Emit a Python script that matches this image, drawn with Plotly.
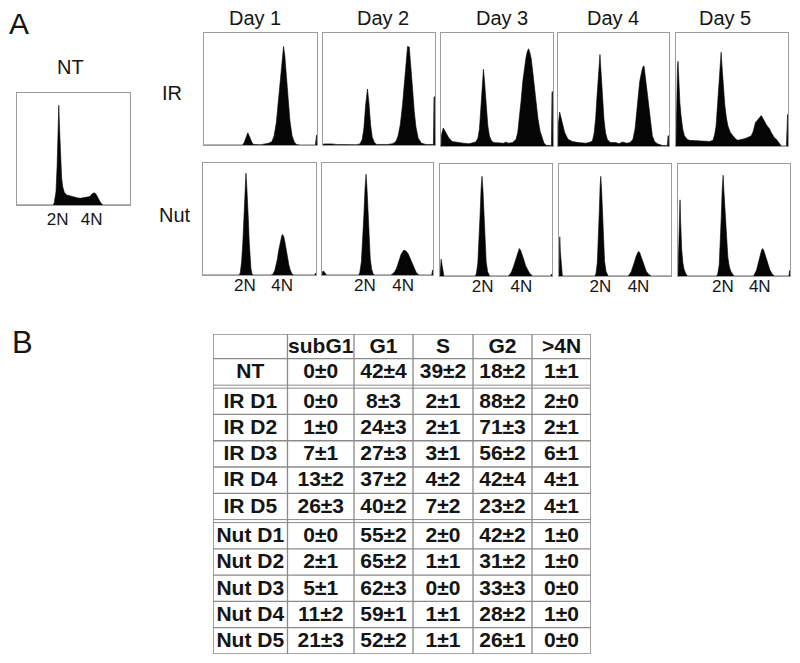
import plotly.graph_objects as go

# ---------------- DATA ----------------
# Flow-cytometry DNA histograms: (channel 0-100, relative count 0-100)
NT = [(0,0),(32,0),(33,2),(34.5,12),(35.5,35),(36.3,65),(37,89),(37.8,65),(38.6,40),(39.5,24),(40.5,16),
      (42,11),(44,9),(47,8),(50,7.5),(53,6.5),(56,6),(59,6.5),(62,6.5),(64.5,7.5),(66.5,10),(68.5,11),
      (70,9.5),(72,5),(74,2),(76,0),(100,0)]

IR_D1 = [(0,0),(34,0),(35.5,2),(37,7),(38.8,11),(40.5,7),(42.5,2),(44,0.5),(50,0.3),(54,1),(57,1.5),(60,3),
         (62,8),(64,20),(66,42),(68,68),(69.5,84),(70.4,88),(71.5,80),(73,60),(74.5,40),(76,22),(78,8),
         (80,2.5),(82,0.5),(85,0),(98.6,0),(99.1,9),(99.6,9),(100,0)]

IR_D2 = [(0,0),(0.5,1),(8,1),(12,0.5),(30,0.3),(33,1),(35,5),(36.5,15),(38,35),(39.7,50),(41,38),(42.5,18),
         (44,7),(46,2),(48,0.5),(58,0.5),(62,1.2),(65,3),(67,8),(69,18),(71,36),(73,62),(74.5,82),(75.5,88),
         (77,87.5),(78.5,72),(80,50),(81.5,30),(83,16),(85,6),(88,1.5),(92,0.5),(98.6,0.5),(99.1,43),
         (99.6,43),(100,0)]

IR_D3 = [(0,0),(0.5,10),(2,16),(4,12),(7,7),(10,4),(15,3),(20,2.5),(25,2),(28,2.5),(31,3.5),(33,7),
         (34.3,15),(35.5,32),(36.4,50),(37.9,68),(38.8,58),(39.7,45),(40.8,28),(41.8,18),(43.2,9),(44.8,5),
         (47,3),(52,2.5),(56,2.5),(58,3.5),(60,2.5),(64,3),(67,6),(68.5,12),(70,24),(71.5,40),(73,57),
         (74.5,70),(76,79),(77.2,84),(78.2,86),(79.5,82),(80.6,77),(82,65),(83.6,51),(85,37),(86.6,24),
         (88.5,13),(90.4,6),(92,2.5),(94,0.6),(98.6,0.5),(99.1,48),(99.6,48),(100,0)]

IR_D4 = [(0,0),(0.4,20),(1.5,30),(3,24),(4.5,18),(6,12),(9,6),(13,4),(18,3),(25,2.5),(28,3),(31,4.5),
         (32.5,11),(33.9,24),(35,42),(36,59),(37,74),(37.8,81),(38.5,70),(39.3,57),(40.3,38),(41.4,24),
         (42.8,12),(44.4,6),(47,3),(52,3),(55,2),(58,3.5),(62,2.5),(65,3),(67.5,6),(69.4,15),(71.5,36),
         (73.6,57),(75.4,66),(76.5,70),(77.5,71),(78.5,63),(79.6,54),(80.8,42),(82,30),(83.5,18),(85,9),
         (87,4),(89.5,2),(94,0.5),(98.6,0.5),(99.1,9),(99.6,9),(100,0)]

IR_D5 = [(0,0),(0.6,45),(1.3,70),(1.8,75),(2.6,55),(3.5,38),(4.5,27),(6,15),(7.5,9),(10,6),(12,5),(18,4.5),
         (25,4),(30,4),(33,5),(34.5,10),(35.8,18),(36.9,35),(37.9,53),(39,72),(40.3,83),(41,72),(41.8,59),
         (42.7,46),(43.6,36),(45,25),(46.3,18),(48.5,12),(50.7,9),(53,6.5),(55.2,5),(58,5.5),(61.2,6.5),
         (64,7.5),(67.2,9),(69,13),(71,21),(72,22),(73.1,23),(74.5,25),(76.1,27),(77.6,24),(79,21),
         (80.6,19),(82,17),(83.6,15),(85,12),(86.6,9),(88,7),(89.6,6),(91,4),(92.5,2),(94,0),(98.6,0),
         (99.1,28),(99.6,28),(100,0)]

NUT_D1 = [(0,0),(32,0),(33,2),(34.2,12),(35.3,30),(36.1,50),(36.8,66),(37.4,82),(38,91),(38.7,80),(39.5,66),
          (40.2,48),(40.9,30),(41.6,15),(42.4,6),(43.2,1.5),(44,0),(60,0),(61.7,0.5),(63.5,4),(64.7,9),
          (65.8,14),(66.8,21),(67.8,27),(68.8,33),(69.8,35.5),(70.6,36),(71.5,34),(72.4,30),(73.6,22),
          (74.8,15),(76,9),(77.2,4.5),(78.5,1.5),(80,0),(99,0),(99.4,1.5),(99.8,1.5),(100,0)]

NUT_D2 = [(0,0),(0.5,3),(1.5,3.5),(3,1),(4,0),(33,0),(34,2),(35.5,12),(36.8,32),(37.8,55),(38.8,78),
          (39.7,90),(40.5,78),(41.4,55),(42.4,32),(43.5,14),(44.8,5),(46.3,0.5),(48,0),(62,0),(63.6,1),
          (65.5,3),(67.2,6),(68.8,10),(70.1,15),(71.3,18.5),(72.5,21),(73.5,22),(74.6,22),(76,21),
          (77.6,19),(79,15.5),(80.6,12),(82,8),(83.6,4.5),(85,2),(86.6,0.5),(88,0),(98.8,0),(99.2,4.5),
          (99.7,4.5),(100,0)]

NUT_D3 = [(0,0),(0.4,10),(1,15),(1.8,10),(2.6,4),(3.5,0),(31.5,0),(32.5,2),(33.8,12),(34.8,30),(35.8,55),
          (36.7,78),(37.5,89),(38.3,78),(39.2,55),(40.2,30),(41.2,13),(42.5,4),(44,0.5),(45,0),(61,0),
          (62.5,1.5),(64,4),(65.5,8),(67,13),(68.5,18),(69.8,22.5),(70.8,24.5),(72,23),(73.5,19),(75,14),
          (76.5,9),(78,5.5),(80,2.5),(82.7,0),(99,0),(99.4,1.5),(99.8,1.5),(100,0)]

NUT_D4 = [(0,0),(0.3,30),(0.7,35),(1.2,22),(2,8),(3,0),(32,0),(33,2),(34.2,12),(35.2,32),(36,58),(36.7,80),
          (37.3,89),(38,78),(38.8,55),(39.7,30),(40.7,13),(42,4),(43.9,0),(61.5,0),(63,1.5),(64.5,4),
          (66,8),(67.5,13),(69,18),(70.2,21),(71,22),(72,21),(73.5,17),(75,12),(76.5,7.5),(78,4),(80,1.5),
          (82.4,0),(100,0)]

NUT_D5 = [(0,0),(0.8,30),(1.4,60),(1.8,68),(2.3,50),(2.8,35),(3.3,24),(4.3,12),(5.4,6),(7,2),(8.4,0),
          (34.5,0),(35.5,2),(36.8,10),(37.8,28),(38.6,52),(39.5,78),(40.3,90),(41,76),(41.8,60),(42.7,45),
          (43.5,30),(44.5,17),(45.7,9),(47,4.5),(48.5,2),(50.1,0),(67.5,0),(68.8,2),(70,5),(71.3,10),
          (72.5,15),(73.6,20),(74.6,23),(75.5,24.5),(76.5,23),(77.8,19),(79.2,14),(80.6,9),(82,5.5),(84,2),
          (86,0),(99,0),(99.3,5),(99.7,5),(100,0)]

PLOIDY_LABELS = ["2N", "4N"]
NT_LABEL_POS = [36, 66]
NUT_LABEL_POS = [[37, 70], [38.7, 73], [38, 72.6], [37, 71], [40, 73]]

DAY_TITLES = ["Day 1", "Day 2", "Day 3", "Day 4", "Day 5"]

# Table (panel B)
TABLE_COLS = ["subG1", "G1", "S", "G2", ">4N"]
TABLE_ROWS = ["NT", "IR D1", "IR D2", "IR D3", "IR D4", "IR D5",
              "Nut D1", "Nut D2", "Nut D3", "Nut D4", "Nut D5"]
SUBG1 = ["0±0", "0±0", "1±0", "7±1", "13±2", "26±3", "0±0", "2±1", "5±1", "11±2", "21±3"]
G1    = ["42±4", "8±3", "24±3", "27±3", "37±2", "40±2", "55±2", "65±2", "62±3", "59±1", "52±2"]
S     = ["39±2", "2±1", "2±1", "3±1", "4±2", "7±2", "2±0", "1±1", "0±0", "1±1", "1±1"]
G2    = ["18±2", "88±2", "71±3", "56±2", "42±4", "23±2", "42±2", "31±2", "33±3", "28±2", "26±1"]
GT4N  = ["1±1", "2±0", "2±1", "6±1", "4±1", "4±1", "1±0", "1±0", "0±0", "1±0", "0±0"]

# ---------------- LAYOUT HELPERS ----------------
W, H = 800, 663
FONT = "Liberation Sans, Arial, sans-serif"
TXT = "#151515"
BOX = "#9c9c9c"

def px_dom_x(a, b):
    return [a / W, b / W]

def px_dom_y(top, bottom):
    return [1 - bottom / H, 1 - top / H]

# panel boxes (left, top, right, bottom) in pixels
NT_BOX = (17, 93, 130, 205)
IR_BOXES = [(204, 33, 317, 145), (323, 33, 435, 145), (441, 33, 553, 146),
            (558, 33, 669, 146), (676, 33, 788, 146)]
NUT_BOXES = [(203, 163, 316, 275), (322, 163, 433, 275), (440, 164, 552, 276),
             (559, 164, 671, 276), (678, 164, 790, 276)]

fig = go.Figure()
layout = {}

panels = [(NT, NT_BOX, NT_LABEL_POS, -2)]
panels += [(d, b, None, 0) for d, b in zip([IR_D1, IR_D2, IR_D3, IR_D4, IR_D5], IR_BOXES)]
panels += [(d, b, p, -6) for d, b, p in zip([NUT_D1, NUT_D2, NUT_D3, NUT_D4, NUT_D5], NUT_BOXES, NUT_LABEL_POS)]

for i, (data, box, labpos, standoff) in enumerate(panels):
    n = i + 1
    sfx = "" if n == 1 else str(n)
    xs = [p[0] for p in data]
    ys = [p[1] for p in data]
    fig.add_trace(go.Scatter(x=xs, y=ys, mode="lines", fill="tozeroy",
                             line=dict(color="#050505", width=0.6), fillcolor="#050505",
                             xaxis="x" + sfx, yaxis="y" + sfx, showlegend=False, hoverinfo="skip"))
    xa = dict(domain=px_dom_x(box[0], box[2]), range=[0, 100], showgrid=False, zeroline=False,
              showline=True, mirror=True, linecolor=BOX, linewidth=1.3, ticks="",
              anchor="y" + sfx, fixedrange=True)
    if labpos is not None:
        xa.update(tickmode="array", tickvals=labpos, ticktext=PLOIDY_LABELS, showticklabels=True,
                  tickfont=dict(family=FONT, size=17, color=TXT), ticklabelstandoff=standoff)
    else:
        xa.update(showticklabels=False)
    ya = dict(domain=px_dom_y(box[1], box[3]), range=[0, 100], showgrid=False, zeroline=False,
              showline=True, mirror=True, linecolor=BOX, linewidth=1.3, ticks="",
              showticklabels=False, anchor="x" + sfx, fixedrange=True)
    layout["xaxis" + sfx] = xa
    layout["yaxis" + sfx] = ya

# ---------------- TABLE ----------------
TN = len(panels) + 1
tsfx = str(TN)
T_LEFT, T_TOP, T_RIGHT, T_BOTTOM = 213, 334, 591, 654
col_edges = [0, 74.5, 141, 200, 260, 319, 378]
HEADER_H = 24.5
NT_H = 26.5
GAP = 3.0
ROW_H = 26.2

row_tops = [0.0, HEADER_H]  # header, NT
y = HEADER_H + NT_H + GAP
for k in range(5):
    row_tops.append(y + k * ROW_H)
y2 = y + 5 * ROW_H + GAP
for k in range(5):
    row_tops.append(y2 + k * ROW_H)
row_bottoms = [HEADER_H, HEADER_H + NT_H] + [t + ROW_H for t in row_tops[2:]]
t_total = row_bottoms[-1]

layout["xaxis" + tsfx] = dict(domain=px_dom_x(T_LEFT, T_RIGHT), range=[0, 378], visible=False,
                              anchor="y" + tsfx, fixedrange=True)
layout["yaxis" + tsfx] = dict(domain=px_dom_y(T_TOP, T_BOTTOM), range=[t_total, 0], visible=False,
                              anchor="x" + tsfx, fixedrange=True)

columns = [TABLE_ROWS, SUBG1, G1, S, G2, GT4N]
tx, ty, tt = [], [], []
for c in range(5):
    tx.append((col_edges[c + 1] + col_edges[c + 2]) / 2)
    ty.append((row_tops[0] + row_bottoms[0]) / 2 + 1)
    tt.append(TABLE_COLS[c])
for r in range(len(TABLE_ROWS)):
    for c, col in enumerate(columns):
        tx.append((col_edges[c] + col_edges[c + 1]) / 2)
        ty.append((row_tops[r + 1] + row_bottoms[r + 1]) / 2 + 1)
        tt.append(col[r])
fig.add_trace(go.Scatter(x=tx, y=ty, text=tt, mode="text",
                         textfont=dict(family=FONT, size=21, color=TXT, weight="bold"),
                         xaxis="x" + tsfx, yaxis="y" + tsfx, showlegend=False, hoverinfo="skip",
                         cliponaxis=False))

LINE = "#8a8a8a"
shapes = []
def hline(yv, w=1.3):
    shapes.append(dict(type="line", xref="x" + tsfx, yref="y" + tsfx, x0=0, x1=378, y0=yv, y1=yv,
                       line=dict(color=LINE, width=w)))
for e in col_edges:
    shapes.append(dict(type="line", xref="x" + tsfx, yref="y" + tsfx, x0=e, x1=e, y0=0, y1=t_total,
                       line=dict(color=LINE, width=1.6 if e in (0, 378) else 1.3)))
hline(0, 1.6)
hline(t_total, 1.6)
hline(HEADER_H)
hline(HEADER_H + NT_H, 1.0)
hline(HEADER_H + NT_H + GAP, 1.0)
for k in range(1, 5):
    hline(row_tops[2 + k])
hline(row_bottoms[6], 1.0)
hline(row_tops[7], 1.0)
for k in range(1, 5):
    hline(row_tops[7 + k])

# ---------------- ANNOTATIONS ----------------
ann = []
def txt(x, y, s, size, bold=False):
    ann.append(dict(x=x / W, y=1 - y / H, xref="paper", yref="paper", text=s, showarrow=False,
                    xanchor="center", yanchor="middle",
                    font=dict(family=FONT, size=size, color=TXT, weight="bold" if bold else "normal")))

txt(19, 24, "A", 30)
txt(22, 342, "B", 31)
txt(70, 67, "NT", 20)
txt(172, 93, "IR", 20)
txt(175, 215, "Nut", 20)
for s, cx in zip(DAY_TITLES, [255, 383, 502, 613, 725]):
    txt(cx, 18, s, 20)

layout.update(width=W, height=H, margin=dict(l=0, r=0, t=0, b=0), paper_bgcolor="white",
              plot_bgcolor="white", showlegend=False, shapes=shapes, annotations=ann)
fig.update_layout(**layout)
fig.write_html("out.html", config={"displayModeBar": False},
               post_script="document.body.style.margin='0';document.body.style.padding='0';")
